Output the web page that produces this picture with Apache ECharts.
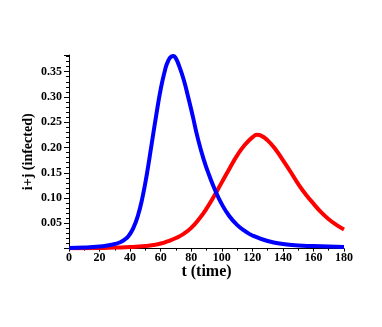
<!DOCTYPE html>
<html>
<head>
<meta charset="utf-8">
<script src="https://cdn.jsdelivr.net/npm/echarts@6/dist/echarts.min.js"></script>
<style>html,body{margin:0;padding:0;background:#fff}#c{width:382px;height:327px}</style>
</head>
<body>
<div id="c"></div>
<script>
const blueT = [0,10,20,25,30,33,36,39,42,45,48,51,54,57,60,63,65,67,68.5,70,72,75,78,81,84,88,92,96,100,105,110,115,120,130,140,150,160,170,180];
const blueV = [0.001,0.002,0.004,0.006,0.009,0.012,0.017,0.025,0.040,0.064,0.100,0.148,0.205,0.262,0.315,0.355,0.372,0.380,0.381,0.376,0.362,0.335,0.300,0.262,0.222,0.178,0.143,0.113,0.088,0.064,0.047,0.035,0.026,0.015,0.009,0.006,0.005,0.004,0.003];
const redT = [0,20,30,40,50,55,60,65,70,75,80,85,90,95,100,105,110,115,120,123,126,130,135,140,145,150,155,160,165,170,175,180];
const redV = [0.0005,0.001,0.002,0.003,0.005,0.007,0.010,0.015,0.021,0.029,0.041,0.058,0.079,0.104,0.131,0.158,0.184,0.205,0.220,0.225,0.223,0.214,0.197,0.175,0.152,0.128,0.107,0.089,0.072,0.058,0.047,0.038];
const xTitle = 't (time)';
const yTitle = 'i+j (infected)';

const chart = echarts.init(document.getElementById('c'), null, {renderer: 'canvas'});
const font = 'Liberation Serif';
chart.setOption({
  animation: false,
  grid: {left: 69, right: 38, top: 55, bottom: 78.4, containLabel: false},
  xAxis: {
    type: 'value', min: 0, max: 180, interval: 20,
    name: xTitle, nameLocation: 'middle', nameGap: 15, nameMoveOverlap: false,
    nameTextStyle: {fontFamily: font, fontWeight: 'bold', fontSize: 16, color: '#000', verticalAlign: 'top'},
    axisLine: {lineStyle: {color: '#000', width: 1}},
    axisTick: {show: true, length: 3, lineStyle: {color: '#000'}},
    minorTick: {show: true, splitNumber: 2, length: 2, lineStyle: {color: '#000'}},
    axisLabel: {fontFamily: font, fontWeight: 'bold', fontSize: 12, color: '#000', margin: 3},
    splitLine: {show: false}
  },
  yAxis: {
    type: 'value', min: 0, max: 0.383, interval: 0.05,
    name: yTitle, nameLocation: 'middle', nameGap: 34, nameRotate: 90, nameMoveOverlap: false,
    nameTextStyle: {fontFamily: font, fontWeight: 'bold', fontSize: 14, color: '#000'},
    axisLine: {show: true, lineStyle: {color: '#000', width: 1}},
    axisTick: {show: true, length: 5, lineStyle: {color: '#000'}},
    minorTick: {show: true, splitNumber: 5, length: 3, lineStyle: {color: '#000'}},
    axisLabel: {fontFamily: font, fontWeight: 'bold', fontSize: 12, color: '#000', margin: 7,
      showMinLabel: false, showMaxLabel: false,
      formatter: v => v.toFixed(2)},
    splitLine: {show: false}
  },
  series: [
    {type: 'line', data: redT.map((t, i) => [t, redV[i]]), smooth: 0.5, showSymbol: false, symbol: 'none',
     lineStyle: {color: '#ff0000', width: 4}, z: 2},
    {type: 'line', data: blueT.map((t, i) => [t, blueV[i]]), smooth: 0.5, showSymbol: false, symbol: 'none',
     lineStyle: {color: '#0000ff', width: 4}, z: 3}
  ]
});
</script>
</body>
</html>
